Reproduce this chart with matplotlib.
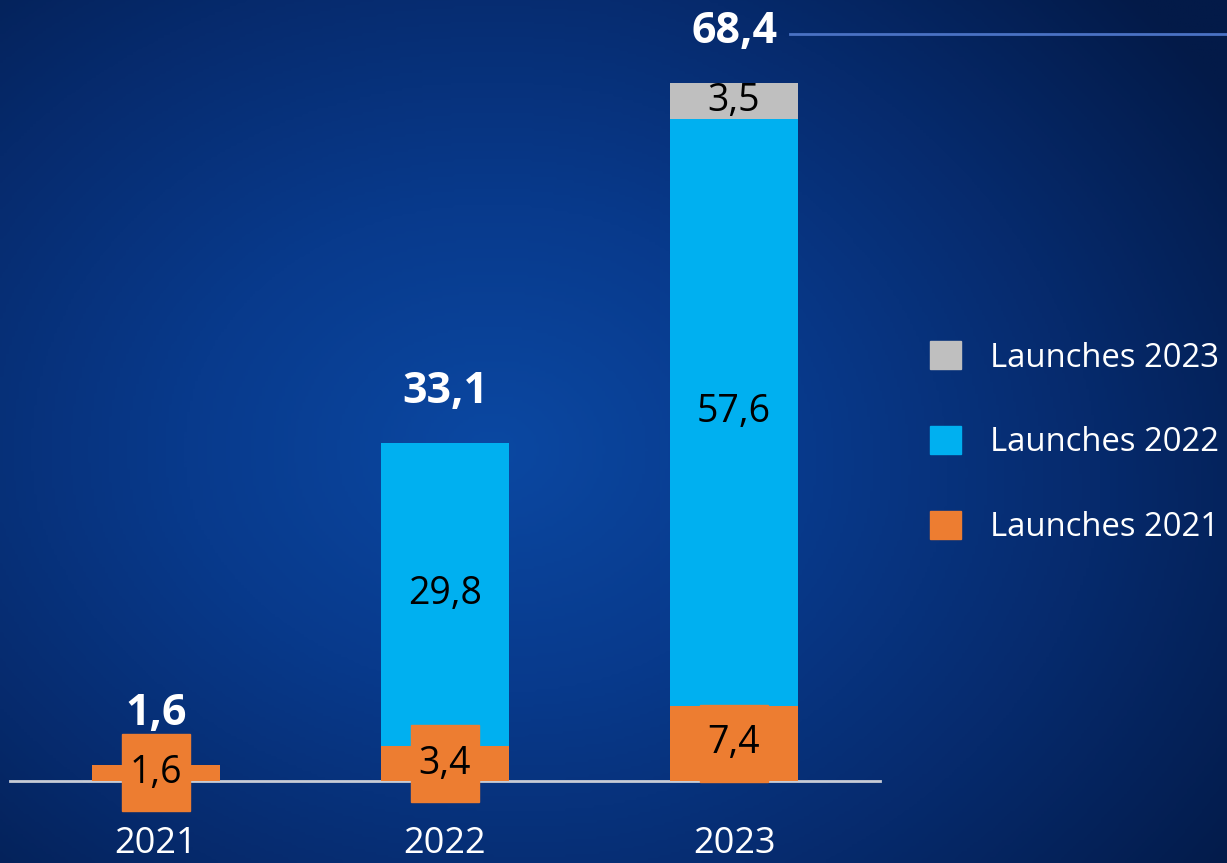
import numpy as np
import matplotlib.pyplot as plt
from matplotlib.patches import Patch, Rectangle
from matplotlib.colors import LinearSegmentedColormap

plt.rcParams['font.family'] = ['Open Sans', 'DejaVu Sans']

years = ["2021", "2022", "2023"]
launch_2021 = [1.6, 3.4, 7.4]
launch_2022 = [0.0, 29.8, 57.6]
launch_2023 = [0.0, 0.0, 3.5]
totals = [1.6, 33.1, 68.4]

ORANGE = "#ED7D31"
BLUE = "#00B0F0"
GREY = "#BFBFBF"


def fmt(v):
    return f"{v:.1f}".replace(".", ",")


fig = plt.figure(figsize=(12.27, 8.63), dpi=100)

# radial blue backdrop
bg = fig.add_axes([0, 0, 1, 1])
h, w = 300, 430
yy, xx = np.mgrid[0:h, 0:w]
dx = (xx / w - 0.40) / 0.75
dy = (yy / h - 0.52) / 0.85
r = np.clip(np.sqrt(dx**2 + dy**2), 0, 1)
r = np.clip(r + 0.25 * np.clip((xx / w - 0.5) * (0.6 - yy / h), 0, None), 0, 1)
cmap = LinearSegmentedColormap.from_list("bg", ["#0B48A2", "#083A8C", "#062a6c", "#031a48"])
bg.imshow(r, cmap=cmap, aspect="auto", extent=[0, 1, 0, 1], origin="upper")
bg.axis("off")

ax = fig.add_axes([0, 0, 1, 1])
ax.patch.set_alpha(0)
x = np.arange(len(years))
width = 0.443

ax.bar(x, launch_2021, width, color=ORANGE, zorder=3)
ax.bar(x[1:], launch_2022[1:], width, bottom=launch_2021[1:], color=BLUE, zorder=3)
bottom3 = np.array(launch_2021) + np.array(launch_2022)
ax.bar(x[2:], launch_2023[2:], width, bottom=bottom3[2:], color=GREY, zorder=3)

ax.set_xlim(-0.540, 3.706)
ax.set_ylim(-8.05, 76.64)
ax.axis("off")

# baseline
ax.plot([-0.505, 2.505], [0, 0], color="#C8CCD6", lw=2, zorder=2)

# orange value labels sit on a wider box
box_w, box_h = 0.235, 7.56
for xi, v in zip(x, launch_2021):
    yc = v / 2
    ax.add_patch(Rectangle((xi - box_w / 2, yc - box_h / 2), box_w, box_h,
                           color=ORANGE, zorder=4))
    ax.text(xi, yc, fmt(v), ha="center", va="center", fontsize=27, color="black", zorder=5)

for xi, lo, v in zip(x[1:], launch_2021[1:], launch_2022[1:]):
    ax.text(xi, lo + v / 2, fmt(v), ha="center", va="center", fontsize=27, color="black", zorder=5)

ax.text(x[2], bottom3[2] + launch_2023[2] / 2, fmt(launch_2023[2]), ha="center",
        va="center", fontsize=27, color="black", zorder=5)

# totals above each stack
stack_top = np.array(launch_2021) + np.array(launch_2022) + np.array(launch_2023)
for xi, top, t in zip(x, stack_top, totals):
    ax.annotate(fmt(t), (xi, top), xytext=(0, 51), textcoords="offset pixels",
                ha="center", va="center", fontsize=31, fontweight="bold", color="white")

line_y = stack_top[2] + 49 / 10.19
ax.plot([2.194, 3.8], [line_y, line_y], color="#4A72C4", lw=2, clip_on=False)

for xi, yr in zip(x, years):
    ax.annotate(yr, (xi, 0), xytext=(0, -63), textcoords="offset pixels",
                ha="center", va="center", fontsize=26, color="white")

handles = [Patch(color=GREY, label="Launches 2023"),
           Patch(color=BLUE, label="Launches 2022"),
           Patch(color=ORANGE, label="Launches 2021")]
leg = ax.legend(handles=handles, loc="center left", bbox_to_anchor=(0.734, 0.487),
                frameon=False, fontsize=23.7, handlelength=0.94, handleheight=0.94,
                handletextpad=0.87, labelspacing=1.56)
for t in leg.get_texts():
    t.set_color("white")

fig.savefig("out.png", dpi=100)
